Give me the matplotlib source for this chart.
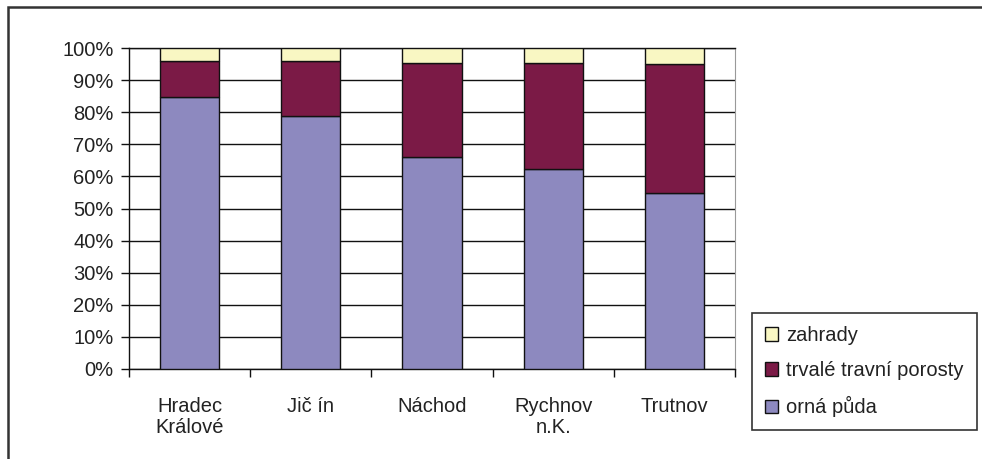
import numpy as np
import matplotlib.pyplot as plt
from matplotlib.patches import Rectangle, Patch
from matplotlib.ticker import PercentFormatter

plt.rcParams['font.family'] = ['Liberation Sans', 'DejaVu Sans']

# data (percent of farm land)
okresy = ["Hradec\nKrálové", "Jič ín", "Náchod", "Rychnov\nn.K.", "Trutnov"]
orna_puda = [84.8, 78.8, 65.9, 62.4, 54.8]
trvale_porosty = [11.0, 17.2, 29.4, 32.8, 40.1]
zahrady = [4.2, 4.0, 4.7, 4.8, 5.1]

c_orna = '#8d89bf'
c_trvale = '#7b1a46'
c_zahrady = '#f9f7c3'
txt = '#222222'
fs = 14.5

fig = plt.figure(figsize=(9.82, 4.59), dpi=100)
# outer chart border (only top/left visible in the reference)
fig.patches.append(Rectangle((8/982, -0.1), 1.2, 1 - 7/459 + 0.1, transform=fig.transFigure,
                             fill=False, edgecolor='#333333', linewidth=1.8))

ax = fig.add_axes([129/982, 90/459, 606/982, 321/459])
x = np.arange(len(okresy))
w = 0.49
orna = np.array(orna_puda)
trv = np.array(trvale_porosty)
zah = np.array(zahrady)
ax.bar(x, orna, w, color=c_orna, edgecolor='#111111', linewidth=1, zorder=3)
ax.bar(x, trv, w, bottom=orna, color=c_trvale, edgecolor='#111111', linewidth=1, zorder=3)
ax.bar(x, zah, w, bottom=orna + trv, color=c_zahrady, edgecolor='#111111', linewidth=1, zorder=3)

ax.set_xlim(-0.5, len(okresy) - 0.5)
ax.set_ylim(0, 100)
ax.set_yticks(np.arange(0, 101, 10))
ax.yaxis.set_major_formatter(PercentFormatter(decimals=0))
ax.yaxis.grid(True, color='#111111', linewidth=1)
ax.set_axisbelow(True)

ax.set_xticks(x)
ax.set_xticklabels(okresy, linespacing=1.15)
ax.set_xticks(np.arange(-0.5, len(okresy)), minor=True)
ax.tick_params(axis='x', which='major', length=0, pad=20, labelsize=fs, labelcolor=txt)
ax.tick_params(axis='x', which='minor', length=6, width=1, color='#111111')
ax.tick_params(axis='y', length=6, width=1, color='#111111', pad=5, labelsize=fs, labelcolor=txt)

for s in ['left', 'bottom', 'top']:
    ax.spines[s].set_color('#111111')
    ax.spines[s].set_linewidth(1)
ax.spines['right'].set_color('#999999')

handles = [Patch(facecolor=c_zahrady, edgecolor='#111111', label='zahrady'),
           Patch(facecolor=c_trvale, edgecolor='#111111', label='trvalé travní porosty'),
           Patch(facecolor=c_orna, edgecolor='#111111', label='orná půda')]
leg = fig.legend(handles=handles, loc='upper left', bbox_to_anchor=(752/982, 1 - 313/459),
                 borderaxespad=0, fancybox=False, framealpha=1, edgecolor='#333333',
                 fontsize=fs, handlelength=0.65, handleheight=0.65, handletextpad=0.4,
                 labelspacing=0.8, borderpad=0.65, labelcolor=txt)
leg.get_frame().set_linewidth(1.2)

fig.savefig('out.png', dpi=100)
